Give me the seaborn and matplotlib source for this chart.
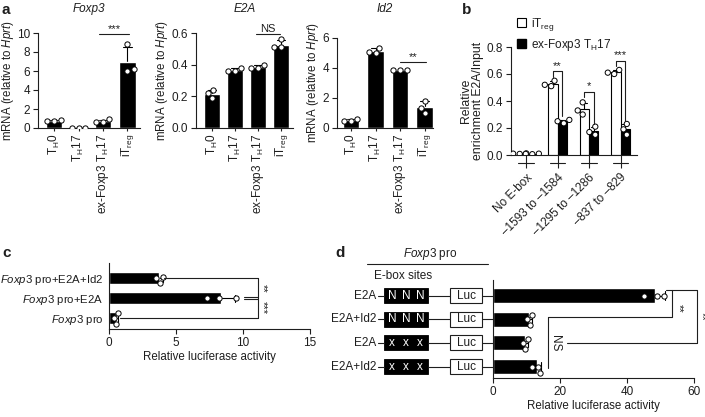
import numpy as np
import pandas as pd
import matplotlib
matplotlib.use("Agg")
import matplotlib.pyplot as plt
import matplotlib.transforms as mtransforms
from matplotlib.patches import Patch, Rectangle
import seaborn as sns

W, H = 705, 417

# =====================================================
# DATA
# =====================================================

cells = ["TH0", "TH17", "exTH17", "iTreg"]
cell_labels = [
    r"T$_\mathregular{H}$0",
    r"T$_\mathregular{H}$17",
    r"ex-Foxp3 T$_\mathregular{H}$17",
    r"iT$_\mathregular{reg}$",
]

# panel a: replicate values per cell type
foxp3_pts = [[0.75, 0.8, 0.75], [0.04, 0.04, 0.04], [0.9, 0.6, 0.65], [8.8, 6.0, 6.2]]
e2a_pts = [[0.24, 0.19, 0.22], [0.38, 0.36, 0.36], [0.40, 0.38, 0.38], [0.56, 0.51, 0.51]]
id2_pts = [[0.6, 0.5, 0.5], [5.35, 5.0, 5.05], [3.9, 3.88, 3.88], [1.8, 1.0, 1.35]]

# panel b: ChIP enrichment
regions = ["No E-box", "\u20131593 to \u20131584", "\u20131295 to \u20131286", "\u2013837 to \u2013829"]
itreg_pts = [[0.012, 0.008, 0.01], [0.55, 0.52, 0.51], [0.39, 0.33, 0.30], [0.63, 0.61, 0.60]]
exth17_pts = [[0.01, 0.006, 0.008], [0.26, 0.25, 0.235], [0.21, 0.17, 0.15], [0.23, 0.19, 0.15]]

# panel c: luciferase
c_rows = ["pro+E2A+Id2", "pro+E2A", "pro"]
c_labels = [r"$\it{Foxp3}$ pro+E2A+Id2", r"$\it{Foxp3}$ pro+E2A", r"$\it{Foxp3}$ pro"]
c_pts = [[3.8, 3.5, 4.0], [7.3, 8.2, 9.5], [0.5, 0.4, 0.7]]

# panel d: luciferase with E-box mutants
d_rows = ["wt_E2A", "wt_E2A_Id2", "mut_E2A", "mut_E2A_Id2"]
d_names = ["E2A", "E2A+Id2", "E2A", "E2A+Id2"]
d_sites = ["N", "N", "x", "x"]
d_pts = [[45.0, 49.0, 51.0], [10.0, 11.0, 11.5], [9.0, 9.5, 10.5], [11.5, 13.5, 14.0]]


def to_long(groups, points, col="group"):
    return pd.DataFrame({
        col: np.repeat(groups, [len(p) for p in points]),
        "val": np.concatenate(points),
    })


def rect(l, t, r, b):
    return [l / W, 1 - b / H, (r - l) / W, (b - t) / H]


# =====================================================
# STYLE
# =====================================================

sns.set_theme(style="ticks")
INK = "#1e1e1e"
FS = 8.5
plt.rcParams.update({
    "font.family": ["Liberation Sans", "DejaVu Sans"],
    "font.size": FS,
    "mathtext.fontset": "custom",
    "mathtext.rm": "Liberation Sans",
    "mathtext.it": "Liberation Sans:italic",
    "mathtext.bf": "Liberation Sans:bold",
    "axes.linewidth": 0.8,
    "axes.edgecolor": INK,
    "axes.labelcolor": INK,
    "axes.labelsize": 8.3,
    "axes.titlesize": FS,
    "legend.fontsize": FS,
    "text.color": INK,
    "xtick.color": INK,
    "ytick.color": INK,
    "xtick.labelsize": FS,
    "ytick.labelsize": FS,
    "xtick.major.size": 3.5,
    "ytick.major.size": 3.5,
    "xtick.major.width": 0.8,
    "ytick.major.width": 0.8,
    "xtick.major.pad": 2,
    "ytick.major.pad": 2,
})

fig = plt.figure(figsize=(W / 100, H / 100), dpi=100)

ERR = {"linewidth": 0.8, "color": "black"}


def bars_and_dots(ax, df, x, y, order, hue=None, palette=None, width=0.66, orient=None):
    kw = dict(data=df, x=x, y=y, order=order, ax=ax)
    if hue is None:
        sns.barplot(**kw, color="black", errorbar="sd", capsize=0.35,
                    err_kws=ERR, width=width, saturation=1, orient=orient)
    else:
        sns.barplot(**kw, hue=hue, palette=palette, edgecolor="black",
                    linewidth=0.8, errorbar="sd", capsize=0.35, err_kws=ERR,
                    width=width, saturation=1, legend=False, gap=0)
    # error bars behind the bars, so only the upper half shows
    for ln in ax.lines:
        ln.set_zorder(1)
    for p in ax.patches:
        p.set_zorder(2)
    if hue is None:
        sns.swarmplot(**kw, color="white", edgecolor="black", linewidth=0.7,
                      size=3.8, zorder=3, orient=orient)
    else:
        sns.swarmplot(**kw, hue=hue, palette={k: "white" for k in palette},
                      dodge=True, edgecolor="black", linewidth=0.7, size=3.8,
                      zorder=3, legend=False)
    sns.despine(ax=ax)


def line(ax, xs, ys):
    ax.plot(xs, ys, color=INK, lw=0.8, clip_on=False, zorder=4)


# =====================================================
# a. qPCR panels
# =====================================================

a_specs = [
    ("Foxp3", foxp3_pts, (38, 33, 140, 128), 54, 24.5, (0, 10), [0, 2, 4, 6, 8, 10], "%g",
     (1.85, 3.05, 9.9, "***")),
    ("E2A", e2a_pts, (196, 33, 293, 128), 212, 23, (0, 0.6), [0, 0.2, 0.4, 0.6], "%.1f",
     (1.9, 2.96, 0.593, "NS")),
    ("Id2", id2_pts, (337, 38, 433, 128), 351, 24.5, (0, 6), [0, 2, 4, 6], "%g",
     (2.0, 3.05, 4.42, "**")),
]

for title, pts, (l, t, r, b), x0, step, ylim, yticks, fmt, sig in a_specs:
    ax = fig.add_axes(rect(l, t, r, b))
    df = to_long(cells, pts, "cell")
    bars_and_dots(ax, df, "cell", "val", cells)
    ax.set_xlim((l - x0) / step, (r - x0) / step)
    ax.set_ylim(*ylim)
    ax.set_yticks(yticks)
    ax.yaxis.set_major_formatter(matplotlib.ticker.FormatStrFormatter(fmt))
    ax.set_xticks(range(4))
    ax.set_xticklabels(cell_labels, rotation=90)
    ax.tick_params(axis="x", length=2)
    ax.set_xlabel("")
    ax.set_ylabel(r"mRNA (relative to $\it{Hprt}$)", labelpad=1)
    # titles sit at the same height above the panel row
    fig.text(((l + r) / 2) / W, 1 - 9 / H, title, style="italic",
             ha="center", va="center")
    x1, x2, ys, txt = sig
    line(ax, [x1, x2], [ys, ys])
    ax.text((x1 + x2) / 2, ys, txt, ha="center", va="bottom", fontsize=8)

# =====================================================
# b. ChIP enrichment
# =====================================================

bl, bt, br, bb = 511, 47, 637, 155
b_x0, b_step = 526, 31.5
axb = fig.add_axes(rect(bl, bt, br, bb))
df_b = pd.concat([
    to_long(regions, itreg_pts, "region").assign(cell="iTreg"),
    to_long(regions, exth17_pts, "region").assign(cell="exTH17"),
])
bars_and_dots(axb, df_b, "region", "val", regions, hue="cell",
              palette={"iTreg": "white", "exTH17": "black"}, width=0.6)
axb.set_xlim((bl - b_x0) / b_step, (br - b_x0) / b_step)
axb.set_ylim(0, 0.8)
axb.set_yticks([0, 0.2, 0.4, 0.6, 0.8])
axb.yaxis.set_major_formatter(matplotlib.ticker.FormatStrFormatter("%.1f"))
axb.set_xticks(range(4))
axb.set_xticklabels(regions, rotation=45, ha="right", rotation_mode="anchor")
axb.tick_params(axis="x", length=9, pad=3)
axb.set_xlabel("")
axb.set_ylabel("Relative\nenrichment E2A/Input", labelpad=2, linespacing=1.05,
               fontsize=8.8)
trans_b = mtransforms.blended_transform_factory(axb.transData, axb.transAxes)
for i in range(4):
    axb.plot([i - 0.25, i + 0.25], [-0.07, -0.07], color=INK, lw=0.8,
             transform=trans_b, clip_on=False)

# brackets: white bar centre -> black bar centre
b_sig = [(1, 0.62, 0.58, 0.29, "**"), (2, 0.47, 0.43, 0.23, "*"), (3, 0.70, 0.66, 0.25, "***")]
for g, top, lo1, lo2, txt in b_sig:
    line(axb, [g - 0.15, g - 0.15, g + 0.15, g + 0.15], [lo1, top, top, lo2])
    axb.text(g, top + 0.005, txt, ha="center", va="bottom", fontsize=8)

handles = [Patch(facecolor="white", edgecolor="black", linewidth=0.8),
           Patch(facecolor="black", edgecolor="black")]
axb.legend(handles, [r"iT$_\mathregular{reg}$", r"ex-Foxp3 T$_\mathregular{H}$17"],
           loc="upper left", bbox_to_anchor=(517 / W, 1 - 16 / H),
           bbox_transform=fig.transFigure, frameon=False, handlelength=0.8,
           handleheight=0.8, handletextpad=0.4, labelspacing=0.3,
           borderpad=0, borderaxespad=0)

# =====================================================
# c. luciferase
# =====================================================

cl, ct, cr, cb = 109, 263, 310, 329
c_y0, c_step = 278, 20
axc = fig.add_axes(rect(cl, ct, cr, cb))
df_c = to_long(c_rows, c_pts, "row")
bars_and_dots(axc, df_c, "val", "row", c_rows, width=0.62, orient="h")
axc.set_ylim((cb - c_y0) / c_step, (ct - c_y0) / c_step)
axc.set_xlim(0, 15)
axc.set_xticks([0, 5, 10, 15])
axc.set_yticks(range(3))
axc.set_yticklabels(c_labels, fontsize=8.2)
axc.tick_params(axis="y", length=0, pad=4)
axc.set_ylabel("")
axc.set_xlabel("Relative luciferase activity", labelpad=2)
line(axc, [4.1, 11.1], [0, 0])
line(axc, [0.85, 11.1], [2, 2])
line(axc, [11.1, 11.1], [0, 2])
line(axc, [10.1, 11.1], [0.94, 0.94])
line(axc, [10.1, 11.1], [1.06, 1.06])
axc.text(11.45, 0.5, "**", rotation=270, ha="center", va="center", fontsize=8)
axc.text(11.45, 1.5, "***", rotation=270, ha="center", va="center", fontsize=8)

# =====================================================
# d. luciferase with E-box mutants
# =====================================================

dl, dt, dr, db = 493, 280, 694, 378
d_y0, d_step = 295.5, 23.7
axd = fig.add_axes(rect(dl, dt, dr, db))
df_d = to_long(d_rows, d_pts, "row")
bars_and_dots(axd, df_d, "val", "row", d_rows, width=0.64, orient="h")
axd.set_ylim((db - d_y0) / d_step, (dt - d_y0) / d_step)
axd.set_xlim(0, 60)
axd.set_xticks([0, 20, 40, 60])
axd.set_yticks(range(4))
axd.set_yticklabels([])
axd.tick_params(axis="y", length=0)
axd.set_ylabel("")
axd.set_xlabel("Relative luciferase activity", labelpad=2)
line(axd, [51.5, 53.3, 53.3, 16.4], [-0.25, -0.25, 0.92, 0.92])
line(axd, [53.3, 60.8, 60.8, 22.0], [-0.25, -0.25, 2.0, 2.0])
line(axd, [16.4, 16.4], [0.92, 3.06])
axd.text(55.3, 0.55, "**", rotation=270, ha="center", va="center", fontsize=8)
axd.text(62.2, 0.9, "**", rotation=270, ha="center", va="center", fontsize=8)
axd.text(18.6, 2.0, "NS", rotation=270, ha="center", va="center")

# promoter construct diagram, x in figure pixels, rows shared with axd
axg = fig.add_axes(rect(340, dt, dl, db), sharey=axd)
axg.set_xlim(340, dl)
axg.axis("off")
for i, (name, site) in enumerate(zip(d_names, d_sites)):
    axg.text(376, i, name, ha="right", va="center")
    line(axg, [378, 384], [i, i])
    axg.add_patch(Rectangle((384, i - 0.32), 44, 0.64, facecolor="black",
                            edgecolor="black", lw=0.6))
    for xs in (392, 406, 420):
        axg.text(xs, i, site, color="white", ha="center", va="center")
    line(axg, [428, 450], [i, i])
    axg.add_patch(Rectangle((450, i - 0.32), 32, 0.64, facecolor="white",
                            edgecolor=INK, lw=0.8))
    axg.text(466, i, "Luc", ha="center", va="center")
    line(axg, [482, dl], [i, i])
axg.text(430, -1.77, r"$\it{Foxp3}$ pro", ha="center", va="center")
line(axg, [367, 488], [-1.31, -1.31])
axg.text(403, -0.84, "E-box sites", ha="center", va="center")

# =====================================================
# PANEL LETTERS
# =====================================================

for letter, x, y in [("a", 2, 10), ("b", 462, 10), ("c", 2, 253), ("d", 335, 253)]:
    fig.text(x / W, 1 - y / H, letter, fontsize=11, fontweight="bold",
             ha="left", va="center")

fig.savefig("out.png", dpi=100)
